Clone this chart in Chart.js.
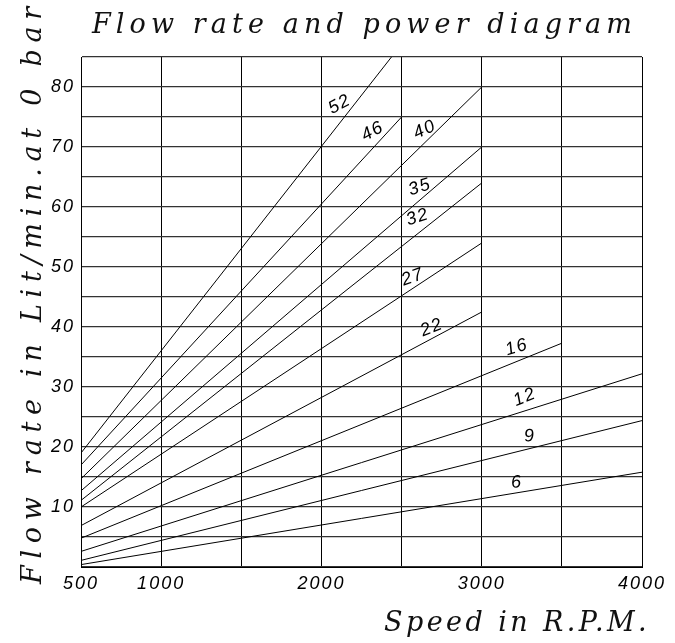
<!DOCTYPE html>
<html>
<head>
<meta charset="utf-8">
<script src="https://cdn.jsdelivr.net/npm/chart.js@4"></script>
<style>
html,body{margin:0;padding:0;background:#fff;}
canvas{display:block;}
</style>
</head>
<body>
<canvas id="c" width="675" height="643"></canvas>
<script>
// ---- data ----
const seriesNames = ['52','46','40','35','32','27','22','16','12','9','6'];
const startRpm  = [500, 500, 500, 500, 500, 500, 500, 500, 500, 500, 500];
const startFlow = [19.0, 17.0, 14.7, 12.7, 11.1, 10.0, 6.9, 4.8, 2.6, 1.1, 0.4];
const endRpm    = [2437, 2500, 3000, 3000, 3000, 3000, 3000, 3500, 4000, 4000, 4000];
const endFlow   = [85, 75, 80, 70, 64, 54, 42.5, 37.3, 32.2, 24.4, 15.8];

// where each curve's label sits (data coordinates) and its tilt
const labelRpm   = [2114, 2320, 2645, 2614, 2601, 2570, 2689, 3219, 3269, 3300, 3219];
const labelFlow  = [77.1, 72.6, 72.9, 63.3, 58.3, 48.3, 39.9, 36.6, 28.3, 21.8, 14.1];
const labelAngle = [-28, -28, -25, -18, -18, -20, -22, -17, -22, -5, -5];

const xTickLabels = [500, 1000, 2000, 3000, 4000];
const yTickLabels = [10, 20, 30, 40, 50, 60, 70, 80];

const titleText  = 'Flow rate and power diagram';
const xTitleText = 'Speed in R.P.M.';
const yTitleText = 'Flow rate in Lit/min.at 0 bar';

const datasets = seriesNames.map((n, i) => ({
  label: n,
  data: [{x: startRpm[i], y: startFlow[i]}, {x: endRpm[i], y: endFlow[i]}],
  borderColor: '#000',
  borderWidth: 1,
  pointRadius: 0,
  fill: false,
  tension: 0
}));

function spacedText(ctx, text, x, y, width, font) {
  ctx.font = font;
  ctx.letterSpacing = '0px';
  const w = ctx.measureText(text).width;
  const s = (width - w) / text.length;
  ctx.letterSpacing = s + 'px';
  ctx.textAlign = 'left';
  ctx.fillText(text, x, y);
  ctx.letterSpacing = '0px';
}

const decor = {
  id: 'decor',
  beforeDraw(chart) { chart.ctx.letterSpacing = '2px'; },
  afterDatasetsDraw(chart) {
    const ctx = chart.ctx;
    const xs = chart.scales.x, ys = chart.scales.y;
    ctx.save();
    ctx.fillStyle = '#000';
    ctx.font = 'italic 18px "Liberation Sans"';
    ctx.letterSpacing = '1.5px';
    ctx.textAlign = 'center';
    ctx.textBaseline = 'middle';
    seriesNames.forEach((n, i) => {
      const px = xs.getPixelForValue(labelRpm[i]);
      const py = ys.getPixelForValue(labelFlow[i]);
      ctx.save();
      ctx.translate(px, py);
      ctx.rotate(labelAngle[i] * Math.PI / 180);
      ctx.fillText(n, 0, 0);
      ctx.restore();
    });
    ctx.restore();
  },
  afterDraw(chart) {
    const ctx = chart.ctx;
    ctx.save();
    ctx.fillStyle = '#111';
    ctx.textBaseline = 'alphabetic';
    const f = 'italic 27px "DejaVu Serif"';
    spacedText(ctx, titleText, 92, 33, 545, f);
    spacedText(ctx, xTitleText, 384, 631, 266, f);
    ctx.translate(41, 584);
    ctx.rotate(-Math.PI / 2);
    spacedText(ctx, yTitleText, 0, 0, 584, f);
    ctx.restore();
  }
};

new Chart(document.getElementById('c'), {
  type: 'line',
  data: { datasets },
  options: {
    responsive: false,
    animation: false,
    devicePixelRatio: 1,
    layout: { padding: { top: 57, right: 33, left: 0, bottom: 0 } },
    plugins: { legend: { display: false }, title: { display: false }, tooltip: { enabled: false } },
    scales: {
      x: {
        type: 'linear', min: 500, max: 4000,
        afterFit(s) { s.height = 76; },
        border: { display: true, color: '#000', width: 1 },
        grid: { color: '#000', lineWidth: 1, drawTicks: false },
        ticks: {
          stepSize: 500, autoSkip: false, maxRotation: 0, padding: 6, color: '#000',
          font: { family: 'Liberation Sans', style: 'italic', size: 18 },
          callback: v => xTickLabels.includes(v) ? String(v) : ''
        }
      },
      y: {
        type: 'linear', min: 0, max: 85,
        afterFit(s) { s.width = 81; },
        border: { display: true, color: '#000', width: 1 },
        grid: { color: '#333', lineWidth: 1.2, drawTicks: false },
        ticks: {
          stepSize: 5, autoSkip: false, padding: 6, color: '#000',
          font: { family: 'Liberation Sans', style: 'italic', size: 18 },
          callback: v => yTickLabels.includes(v) ? String(v) : ''
        }
      }
    }
  },
  plugins: [decor]
});
</script>
</body>
</html>
